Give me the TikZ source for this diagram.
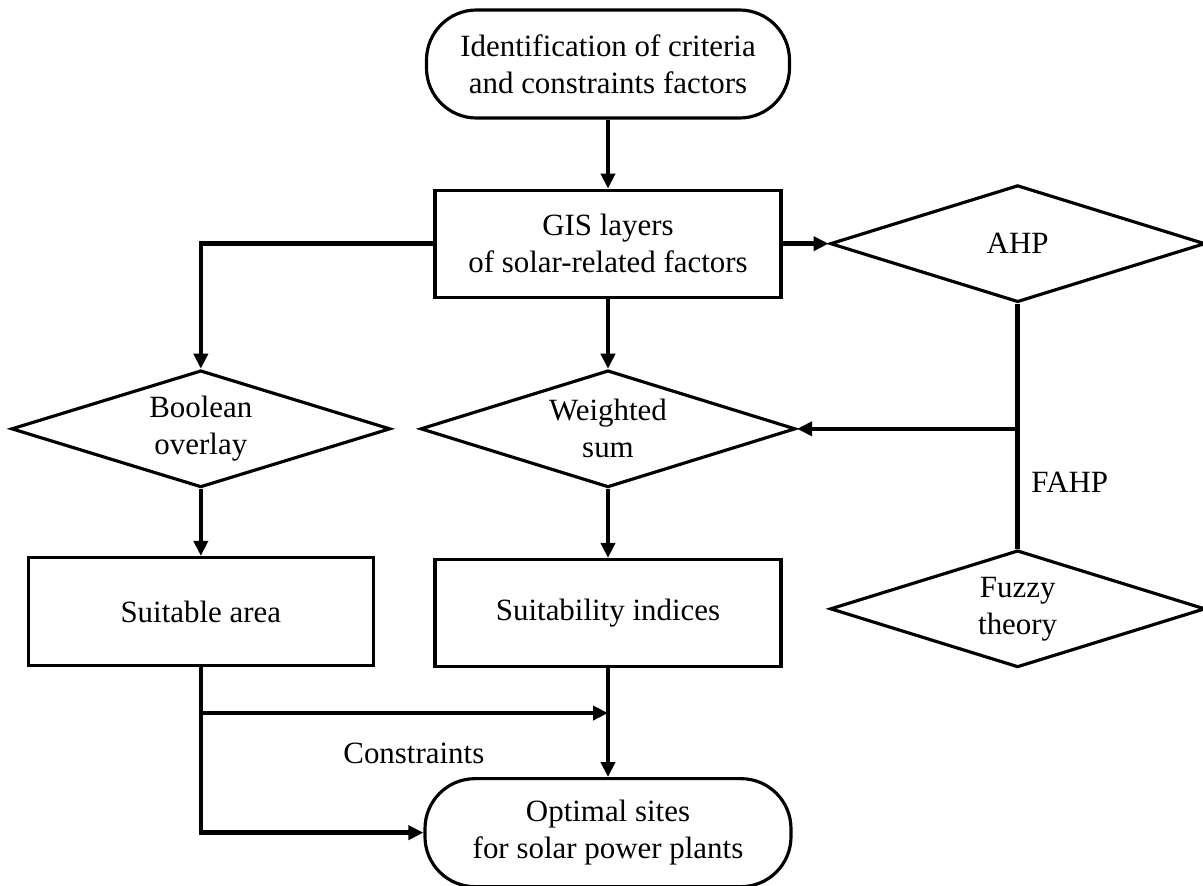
\documentclass[tikz,border=0pt]{standalone}
\usepackage{fontspec}
\setmainfont{Liberation Serif}
\usetikzlibrary{shapes.geometric, arrows.meta, positioning, calc}
\newcommand{\figfont}{\fontsize{17.6pt}{21pt}\selectfont}
\tikzset{
	terminal/.style={rectangle, rounded corners=1cm, draw=black, line width=1.8pt,
		minimum width=7.26cm, minimum height=2.16cm, align=center, font=\figfont},
	process/.style={rectangle, draw=black, line width=1.8pt,
		minimum width=6.92cm, minimum height=2.14cm, align=center, font=\figfont},
	decision/.style={diamond, shape aspect=3.2, inner sep=1pt, draw=black, line width=1.8pt,
		minimum width=7.5cm, minimum height=2.34cm, align=center, font=\figfont},
	arrow/.style={-{Triangle[length=0.3cm,width=0.28cm]}, line width=2.6pt},
	link/.style={line width=2.6pt},
	lbl/.style={font=\figfont},
}
\begin{document}
\begin{tikzpicture}[node distance=1.4cm and 0.92cm]
	\useasboundingbox (0,0) rectangle (24.06,-17.72);
	% main column
	\node[terminal] (start) at (12.16,-1.28) {Identification of criteria\\and constraints factors};
	\node[process, below=1.38cm of start] (gis) {GIS layers\\of solar-related factors};
	\node[decision, below=1.4cm of gis] (wsum) {Weighted\\sum};
	\node[process, below=1.38cm of wsum] (suitidx) {Suitability indices};
	\node[terminal, below=2.18cm of suitidx, minimum width=7.32cm] (optimal) {Optimal sites\\for solar power plants};
	% left branch
	\node[decision, left=0.54cm of wsum, minimum width=7.58cm] (bool) {Boolean\\overlay};
	\node[process, below=1.34cm of bool, minimum width=6.9cm, minimum height=2.16cm] (suitarea) {Suitable area};
	% right branch
	\node[decision, right=0.92cm of gis] (ahp) {AHP};
	\node[decision, below=4.9cm of ahp] (fuzzy) {Fuzzy\\theory};
	% connectors
	\draw[arrow] (start) -- (gis);
	\draw[arrow] (gis) -- (ahp);
	\draw[arrow] (gis.west) -| (bool.north);
	\draw[arrow] (gis) -- (wsum);
	\draw[link] (ahp.south) -- (fuzzy.north);
	\coordinate (fork) at (ahp.south |- wsum.east);
	\draw[arrow] (fork) -- (wsum.east);
	\node[lbl, anchor=west] (fahp) at ($(fork)+(0.15,-1.06)$) {FAHP};
	\draw[arrow] (bool) -- (suitarea);
	\draw[arrow] (wsum) -- (suitidx);
	\draw[arrow] (suitidx) -- (optimal);
	\coordinate (split) at ($(suitarea.south)+(0,-0.92)$);
	\draw[arrow] (suitarea.south) |- (optimal.west);
	\draw[arrow] (split) -- (split -| suitidx.south);
	\node[lbl] (constr) at ($(split)+(4.26,-0.8)$) {Constraints};
\end{tikzpicture}
\end{document}
